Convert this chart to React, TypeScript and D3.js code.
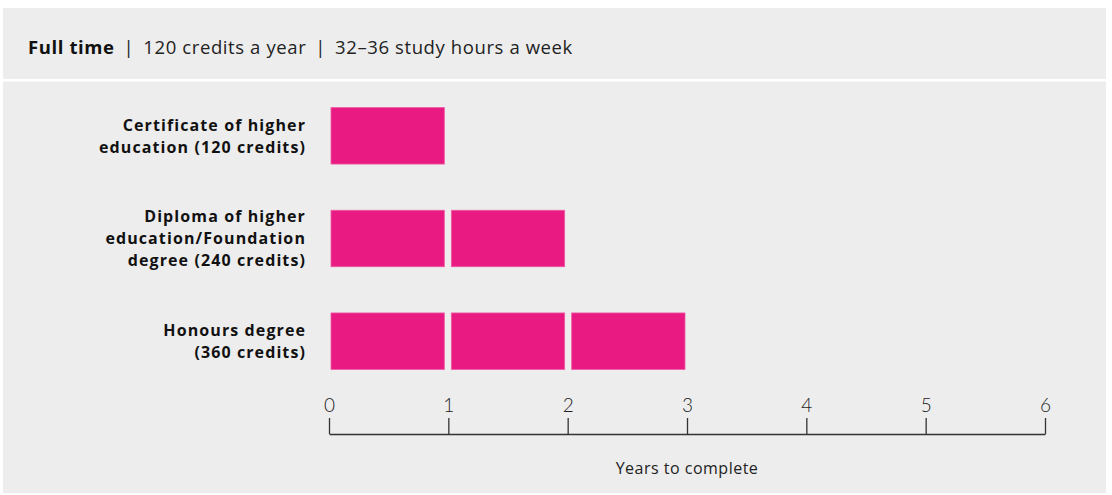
import React, { useEffect, useRef } from 'react';
import * as d3 from 'd3';

const categories: string[][] = [
  ['Certificate of higher', 'education (120 credits)'],
  ['Diploma of higher', 'education/Foundation', 'degree (240 credits)'],
  ['Honours degree', '(360 credits)'],
];
const yearsToComplete: number[] = [1, 2, 3];
const tickValues: number[] = [0, 1, 2, 3, 4, 5, 6];
const headerBold = 'Full time';
const headerParts: string[] = ['120 credits a year', '32–36 study hours a week'];
const axisTitle = 'Years to complete';

const width = 1112;
const height = 495;
const FONT = '"Open Sans", Lato, "Noto Sans", sans-serif';
const THIN = 'Lato, "Open Sans", sans-serif';
const PINK = '#e91b83';

const App: React.FC = () => {
  const ref = useRef<SVGSVGElement>(null);

  useEffect(() => {
    document.body.style.margin = '0';
    draw();
  }, []);

  function draw() {
    const svg = d3.select(ref.current);
    svg.selectAll('*').remove();

    // panel + header band
    svg.append('rect')
      .attr('x', 3).attr('y', 8)
      .attr('width', 1103).attr('height', 485)
      .attr('fill', '#ededed');
    svg.append('rect')
      .attr('x', 3).attr('y', 79)
      .attr('width', 1103).attr('height', 2.5)
      .attr('fill', '#ffffff');

    const header = svg.append('text')
      .attr('x', 28)
      .attr('y', 53.5)
      .attr('font-family', FONT)
      .attr('font-size', 18.5)
      .attr('letter-spacing', 0.6)
      .attr('fill', '#111');
    header.append('tspan').attr('font-weight', 700).attr('fill', '#111').text(headerBold);
    headerParts.forEach((p) => {
      header.append('tspan').attr('dx', 9).attr('font-weight', 400).attr('fill', '#222').text('|');
      header.append('tspan').attr('dx', 9).attr('font-weight', 400).attr('fill', '#222').text(p);
    });

    const x = d3.scaleLinear()
      .domain([0, 6])
      .range([329, 1045]);

    const y = d3.scaleBand<number>()
      .domain(d3.range(categories.length))
      .range([85, 392])
      .paddingInner(0.45)
      .paddingOuter(0.22);

    // bars: one block per year
    const rows = svg.selectAll('.row')
      .data(yearsToComplete)
      .enter()
      .append('g')
      .attr('class', 'row')
      .attr('transform', (d, i) => `translate(0, ${y(i)})`);

    rows.selectAll('rect')
      .data((d) => d3.range(d))
      .enter()
      .append('rect')
      .attr('x', (d) => x(d) + 2 + d)
      .attr('y', 0)
      .attr('width', (d) => x(d + 1) - x(d) - 6)
      .attr('height', y.bandwidth())
      .attr('fill', PINK)
      .attr('stroke', '#ee5ba4')
      .attr('stroke-width', 0.8);

    // category labels
    const lineH = 22;
    categories.forEach((lines, i) => {
      const c = y(i)! + y.bandwidth() / 2;
      const t = svg.append('text')
        .attr('text-anchor', 'end')
        .attr('font-family', FONT)
        .attr('font-size', 16)
        .attr('font-weight', 700)
        .attr('letter-spacing', 1.1)
        .attr('fill', '#111');
      lines.forEach((line, k) => {
        t.append('tspan')
          .attr('x', 306)
          .attr('y', c + (k - (lines.length - 1) / 2) * lineH)
          .attr('dy', '0.36em')
          .text(line);
      });
    });

    // axis
    const axis = svg.append('g')
      .attr('transform', 'translate(0, 434)')
      .call(d3.axisTop(x).tickValues(tickValues).tickSize(16).tickSizeOuter(0).tickPadding(6).tickFormat(d3.format('d')));

    axis.select('.domain').attr('stroke', '#333').attr('stroke-width', 1.3);
    axis.selectAll('.tick line').attr('stroke', '#333').attr('stroke-width', 1.3);
    axis.selectAll('.tick text')
      .attr('font-family', THIN)
      .attr('font-size', 19)
      .attr('font-weight', 300)
      .attr('fill', '#222');

    svg.append('text')
      .attr('x', x(3))
      .attr('y', 468)
      .attr('dy', '0.35em')
      .attr('text-anchor', 'middle')
      .attr('font-family', FONT)
      .attr('font-size', 16)
      .attr('letter-spacing', 0.5)
      .attr('font-weight', 400)
      .attr('fill', '#222')
      .text(axisTitle);
  }

  return (
    <svg ref={ref} width={width} height={height} style={{ display: 'block', background: '#fff' }} />
  );
};

export default App;
